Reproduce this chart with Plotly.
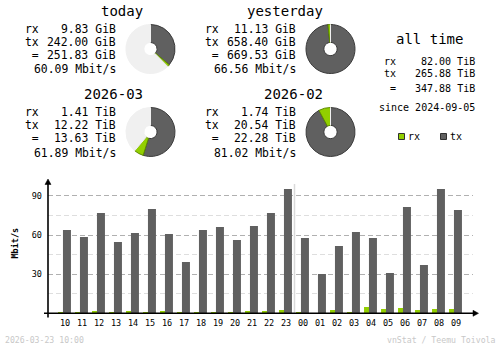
import plotly.graph_objects as go

W, H = 500, 348

# ---------------- data ----------------
hours = ["10", "11", "12", "13", "14", "15", "16", "17", "18", "19", "20", "21",
         "22", "23", "00", "01", "02", "03", "04", "05", "06", "07", "08", "09"]
rx_mbit = [1.0, 1.0, 1.8, 1.0, 1.8, 1.0, 1.8, 1.0, 1.0, 1.0, 1.0, 1.8,
           1.8, 2.6, 1.0, 0.3, 2.6, 1.0, 4.9, 3.3, 4.1, 2.6, 3.3, 3.3]
tx_mbit = [63.9, 58.5, 76.9, 54.7, 61.6, 80.0, 60.8, 39.3, 63.9, 66.2, 56.2, 67.0,
           76.9, 95.3, 57.7, 30.1, 51.6, 62.3, 57.7, 30.9, 81.5, 37.0, 95.3, 79.2]
y_ticks = [30, 60, 90]

# summary blocks: (title, rx, tx, total, rate, rx_value, tx_value, reference_total)
today = ("today", "9.83 GiB", "242.00 GiB", "251.83 GiB", "60.09 Mbit/s", 9.83, 242.00, 669.53)
yesterday = ("yesterday", "11.13 GiB", "658.40 GiB", "669.53 GiB", "66.56 Mbit/s", 11.13, 658.40, 669.53)
month_cur = ("2026-03", "1.41 TiB", "12.22 TiB", "13.63 TiB", "61.89 Mbit/s", 1.41, 12.22, 22.28)
month_prev = ("2026-02", "1.74 TiB", "20.54 TiB", "22.28 TiB", "81.02 Mbit/s", 1.74, 20.54, 22.28)
alltime_rx, alltime_tx, alltime_total = "82.00 TiB", "265.88 TiB", "347.88 TiB"
since_text = "since 2024-09-05"
footer_left = "2026-03-23 10:00"
footer_right = "vnStat / Teemu Toivola"

# ---------------- style ----------------
C_RX = "#92CF00"
C_TX = "#606060"
C_RX_EDGE = "#5E8A00"
C_TX_EDGE = "#3A3A3A"
C_BGOFF = "#F0F0F0"
MONO = "DejaVu Sans Mono"


def px(x):
    return x / W


def py(y):
    return 1 - y / H


fig = go.Figure()

# ---------------- bar chart ----------------
fig.add_trace(go.Bar(x=hours, y=rx_mbit, name="rx", marker=dict(color=C_RX, line=dict(width=0)),
                     offset=-0.41, width=0.30, showlegend=False))
fig.add_trace(go.Bar(x=hours, y=tx_mbit, name="tx", marker=dict(color=C_TX, line=dict(width=0)),
                     offset=-0.12, width=0.47, showlegend=False))

X0, X1 = 48, 473
Y0, Y1 = 313.3, 179

fig.update_layout(
    xaxis=dict(domain=[px(X0), px(X1)], type="category", range=[-1, 24],
               showgrid=False, showline=False, zeroline=False, ticks="",
               tickfont=dict(family=MONO, size=8.5, color="#000"), ticklabelstandoff=3,
               fixedrange=True),
    yaxis=dict(domain=[py(Y0), py(Y1)], range=[0, 103], tickvals=y_ticks,
               showgrid=True, gridcolor="#B0B0B0", griddash="5px,3px", gridwidth=1,
               minor=dict(dtick=15, tick0=0, showgrid=True, gridcolor="#DEDEDE",
                          griddash="5px,3px", gridwidth=1),
               showline=False, zeroline=False, ticks="",
               tickfont=dict(family=MONO, size=8.5, color="#000"), ticklabelstandoff=5,
               fixedrange=True),
    barmode="overlay",
)

shapes = []
# day separator between 23 and 00
shapes.append(dict(type="line", xref="x", yref="paper", x0=13.5, x1=13.5,
                   y0=py(Y0), y1=py(184), line=dict(color="#DADADA", width=1.5), layer="below"))
# axes
shapes.append(dict(type="line", xref="paper", yref="paper", x0=px(44), x1=px(475),
                   y0=py(Y0), y1=py(Y0), line=dict(color="#000", width=1.6)))
shapes.append(dict(type="line", xref="paper", yref="paper", x0=px(X0), x1=px(X0),
                   y0=py(317.5), y1=py(182), line=dict(color="#000", width=1.6)))
# arrow heads
shapes.append(dict(type="path", xref="paper", yref="paper",
                   path=f"M {px(473)},{py(Y0-3)} L {px(478.5)},{py(Y0)} L {px(473)},{py(Y0+3)} Z",
                   fillcolor="#000", line=dict(color="#000", width=0.5)))
shapes.append(dict(type="path", xref="paper", yref="paper",
                   path=f"M {px(X0-3)},{py(184.5)} L {px(X0)},{py(179)} L {px(X0+3)},{py(184.5)} Z",
                   fillcolor="#000", line=dict(color="#000", width=0.5)))
# legend squares
shapes.append(dict(type="rect", xref="paper", yref="paper", x0=px(398.5), x1=px(404.5),
                   y0=py(139.5), y1=py(133.5), fillcolor=C_RX, line=dict(color="#303030", width=1)))
shapes.append(dict(type="rect", xref="paper", yref="paper", x0=px(440.5), x1=px(446.5),
                   y0=py(139.5), y1=py(133.5), fillcolor=C_TX, line=dict(color="#303030", width=1)))

annotations = []


def text(s, x, y, anchor="left", size=11.4, color="#000", bold=False, angle=0):
    annotations.append(dict(text=f"<b>{s}</b>" if bold else s, x=px(x), y=py(y), xref="paper", yref="paper",
                            xanchor=anchor, yanchor="middle", showarrow=False, textangle=angle,
                            font=dict(family=MONO, size=size, color=color), borderpad=0, borderwidth=0))


ROWS = [28.6, 42.0, 55.4, 69.5]


def block(data, dx, dy):
    title, rxs, txs, tots, rate, rxv, txv, ref = data
    text(title, 142.5 + dx, 10.8 + dy, anchor="right", size=14)
    text("rx", 25 + dx, ROWS[0] + dy)
    text(rxs, 115.5 + dx, ROWS[0] + dy, anchor="right")
    text("tx", 25 + dx, ROWS[1] + dy)
    text(txs, 115.5 + dx, ROWS[1] + dy, anchor="right")
    text(" =", 25 + dx, ROWS[2] + dy)
    text(tots, 115.5 + dx, ROWS[2] + dy, anchor="right")
    text(rate, 115.5 + dx, ROWS[3] + dy, anchor="right")
    cx, cy, r = 150.5 + dx, 49 + dy, 24.5
    rest = max(ref - (rxv + txv), 0)
    fig.add_trace(go.Pie(values=[txv, rxv, rest], labels=["tx", "rx", "rest"], sort=False,
                         direction="clockwise", rotation=0, hole=0.27, textinfo="none",
                         hoverinfo="skip", showlegend=False,
                         marker=dict(colors=[C_TX, C_RX, C_BGOFF],
                                     line=dict(color=[C_TX_EDGE, C_RX_EDGE, C_BGOFF], width=1)),
                         domain=dict(x=[px(cx - r), px(cx + r)], y=[py(cy + r), py(cy - r)])))


block(today, 0, 0)
block(yesterday, 180, 0)
block(month_cur, 0, 83)
block(month_prev, 180, 83)

# all time
text("all time", 429, 39, anchor="center", size=14)
text("rx", 384, 62, size=10)
text(alltime_rx, 474.5, 62, anchor="right", size=10)
text("tx", 384, 73.8, size=10)
text(alltime_tx, 474.5, 73.8, anchor="right", size=10)
text(" =", 384, 88, size=10)
text(alltime_total, 474.5, 88, anchor="right", size=10)
text(since_text, 474.5, 108, anchor="right", size=10)
text("rx", 407.5, 136.3, size=10)
text("tx", 450, 136.3, size=10)

# axis title
text("Mbit/s", 14.5, 243, anchor="center", size=8.5, bold=True, angle=-90)

# footer
text(footer_left, 4.5, 340, size=8.2, color="#C8C8C8")
text(footer_right, 495.5, 340, anchor="right", size=8.2, color="#C8C8C8")

fig.update_layout(width=W, height=H, margin=dict(l=0, r=0, t=0, b=0),
                  paper_bgcolor="#FFFFFF", plot_bgcolor="#FFFFFF",
                  shapes=shapes, annotations=annotations, hovermode=False,
                  showlegend=False)

fig.write_html("out.html", config=dict(displayModeBar=False, staticPlot=True))
